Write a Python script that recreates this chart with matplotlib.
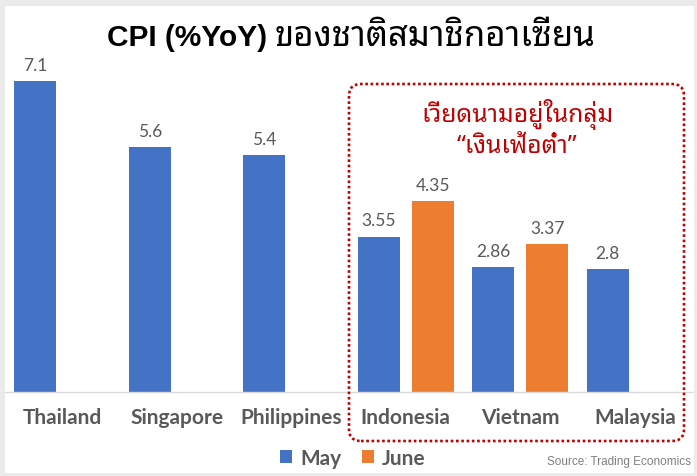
import numpy as np
import matplotlib
matplotlib.use("Agg")
import matplotlib.pyplot as plt
from matplotlib.patches import Rectangle, FancyBboxPatch, Patch

# data
countries = ["Thailand", "Singapore", "Philippines", "Indonesia", "Vietnam", "Malaysia"]
may = [7.1, 5.6, 5.4, 3.55, 2.86, 2.8]
june = [np.nan, np.nan, np.nan, 4.35, 3.37, np.nan]

title_latin = "CPI (%YoY)"
title_thai = "ของชาติสมาชิกอาเซียน"
note = "เวียดนามอยู่ในกลุ่ม\n\u201cเงินเฟ้อต่ำ\u201d"
source = "Source: Trading Economics"

blue = "#4472C4"
orange = "#ED7D31"
grey = "#595959"
red = "#C00000"

W, H = 697, 477
fig = plt.figure(figsize=(W / 100, H / 100), dpi=100)
fig.patch.set_facecolor("#EBEBEB")
# white card
fig.add_artist(Rectangle((5 / W, 3 / H), 689 / W, 467 / H, transform=fig.transFigure,
                         facecolor="white", edgecolor="none", zorder=0))

# axes: baseline at y=393px, 1 unit = 43.8px
ymax = 8
ax = fig.add_axes([5 / W, 84 / H, 687 / W, ymax * 43.8 / H])
ax.set_facecolor("none")
ax.set_xlim(-0.5, 5.5)
ax.set_ylim(0, ymax)

x = np.arange(len(countries))
bw = 0.366
off = 0.236
ax.bar(x - off, may, bw, color=blue, zorder=2)
ax.bar(x + off, june, bw, color=orange, zorder=2)

for xi, v in zip(x - off, may):
    ax.annotate(str(v), (xi, v), xytext=(0, 8), textcoords="offset points",
                ha="center", va="baseline", fontsize=12.5, color=grey, family="Lato")
for xi, v in zip(x + off, june):
    if not np.isnan(v):
        ax.annotate(str(v), (xi, v), xytext=(0, 8), textcoords="offset points",
                    ha="center", va="baseline", fontsize=12.5, color=grey, family="Lato")

for s in ["top", "left", "right"]:
    ax.spines[s].set_visible(False)
ax.spines["bottom"].set_color("#D9D9D9")
ax.spines["bottom"].set_linewidth(1)
ax.set_yticks([])
ax.set_xticks(x)
ax.set_xticklabels(countries, fontsize=15, fontweight="bold", color=grey, family="Lato")
ax.tick_params(axis="x", length=0, pad=11)

# red dotted box round the low-inflation group
xscale = 687 / 6   # px per x unit
yscale = 43.8      # px per y unit
bx0 = 2.5 + (349 - 5 - 3 * xscale) / xscale
bx1 = 2.5 + (684 - 5 - 3 * xscale) / xscale
by0 = (393 - 442) / yscale
by1 = (393 - 85) / yscale
r = 12 / xscale
box = FancyBboxPatch((bx0, by0), bx1 - bx0, by1 - by0,
                     boxstyle=f"round,pad=0,rounding_size={r}",
                     mutation_aspect=xscale / yscale,
                     facecolor="none", edgecolor=red, linewidth=1.9,
                     linestyle=(0, (1, 1)), capstyle="butt", clip_on=False, zorder=3)
ax.add_patch(box)

ax.text(4.0 + (517 - 5 - 4.5 * xscale) / xscale, (393 - 129) / yscale, note,
        ha="center", va="center", fontsize=17.8, fontweight="bold", color=red,
        family=["Noto Sans Thai Looped", "Lato"], linespacing=1.22)

# title: latin part and thai part share one baseline
fig.text(107 / W, (H - 46) / H, title_latin, ha="left", va="baseline", fontsize=21.5,
         fontweight="bold", color="black", family="Liberation Sans")
fig.text(275 / W, (H - 46) / H, title_thai, ha="left", va="baseline", fontsize=25,
         fontweight="bold", color="black", family=["Noto Sans Thai Looped", "Liberation Sans"])

handles = [Patch(facecolor=blue, label="May"), Patch(facecolor=orange, label="June")]
fig.legend(handles=handles, loc="center", bbox_to_anchor=(353 / W, 18 / H), ncol=2,
           frameon=False, prop={"family": "Lato", "weight": "bold", "size": 15},
           labelcolor=grey, handlelength=0.55, handleheight=0.55, handletextpad=0.4,
           columnspacing=1.0)

fig.text(691 / W, (H - 462) / H, source, ha="right", va="center", fontsize=8.5,
         color="#7F7F7F", family="Liberation Sans")

fig.savefig("out.png", dpi=100)
